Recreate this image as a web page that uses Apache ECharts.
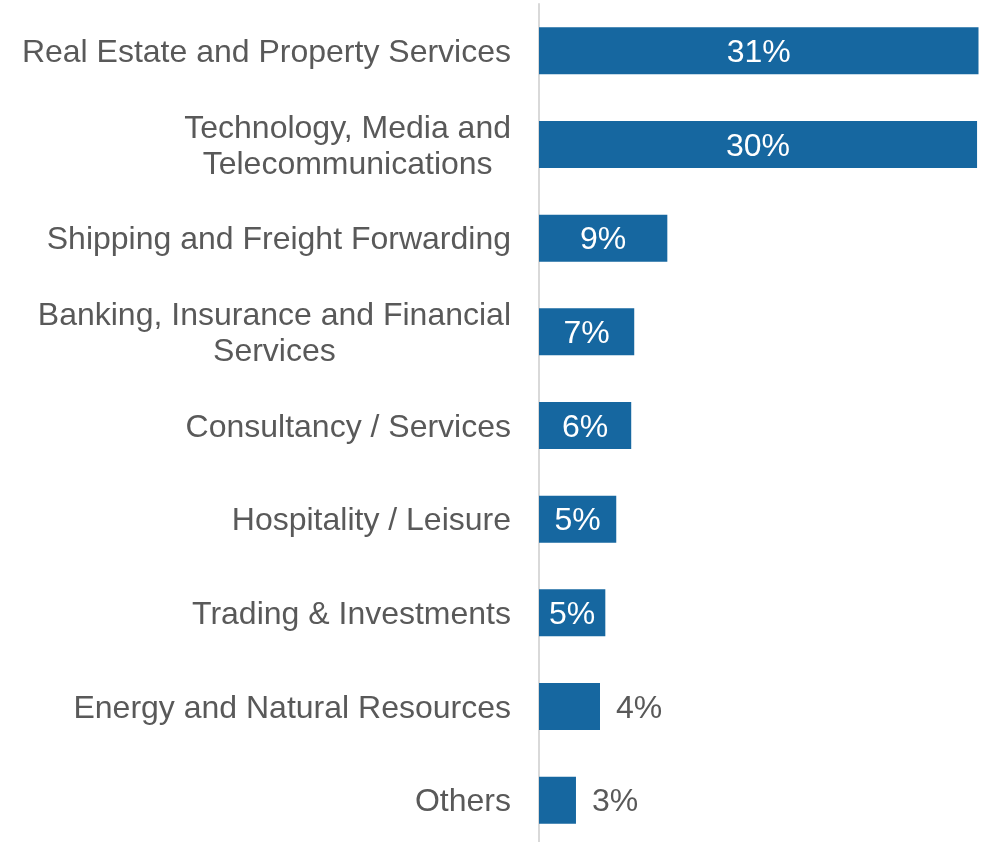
<!DOCTYPE html>
<html>
<head>
<meta charset="utf-8">
<script src="https://cdn.jsdelivr.net/npm/echarts@6/dist/echarts.min.js"></script>
<style>html,body{margin:0;padding:0;background:#fff;overflow:hidden;}#c{width:990px;height:847px;}</style>
</head>
<body>
<div id="c"></div>
<script>
const categories = [
  'Real Estate and Property Services',
  'Technology, Media and\nTelecommunications',
  'Shipping and Freight Forwarding',
  'Banking, Insurance and Financial\nServices',
  'Consultancy / Services',
  'Hospitality / Leisure',
  'Trading & Investments',
  'Energy and Natural Resources',
  'Others'
];
const values = [30.55, 30.45, 8.92, 6.62, 6.41, 5.37, 4.61, 4.24, 2.57];
const outsideLabel = [false, false, false, false, false, false, false, true, true];

const FONT = '"Liberation Sans", Arial, sans-serif';
const GRAY = '#595959';
const BLUE = '#1667a0';
const FS = 32;

const chart = echarts.init(document.getElementById('c'), null, {renderer: 'canvas'});
chart.setOption({
  animation: false,
  backgroundColor: '#fff',
  grid: {left: 539, right: 11.5, top: 4, bottom: 0, containLabel: false},
  xAxis: {
    type: 'value', min: 0, max: 30.55,
    show: false
  },
  yAxis: {
    type: 'category',
    data: categories,
    inverse: true,
    axisLine: {show: true, lineStyle: {color: '#d9d9d9', width: 2}},
    axisTick: {show: false},
    splitLine: {show: false},
    axisLabel: {
      margin: 28,
      color: GRAY,
      fontFamily: FONT,
      fontSize: FS,
      lineHeight: 36,
      align: 'right',
      padding: [5, 0, 0, 0],
      formatter: function (v) {
        return v.split('\n').map(function (s) { return '{c|' + s + '}'; }).join('\n');
      },
      rich: {
        c: {align: 'center', color: GRAY, fontFamily: FONT, fontSize: FS, lineHeight: 36}
      }
    }
  },
  series: [{
    type: 'bar',
    barWidth: 47,
    itemStyle: {color: BLUE},
    data: values.map(function (v, i) {
      return {
        value: v,
        label: outsideLabel[i]
          ? {show: true, position: 'right', distance: 16, color: GRAY}
          : {show: true, position: 'inside', color: '#ffffff'}
      };
    }),
    label: {
      show: true,
      fontFamily: FONT,
      fontSize: FS,
      offset: [0, 2.5],
      formatter: function (p) { return Math.round(p.value) + '%'; }
    }
  }]
});
</script>
</body>
</html>
